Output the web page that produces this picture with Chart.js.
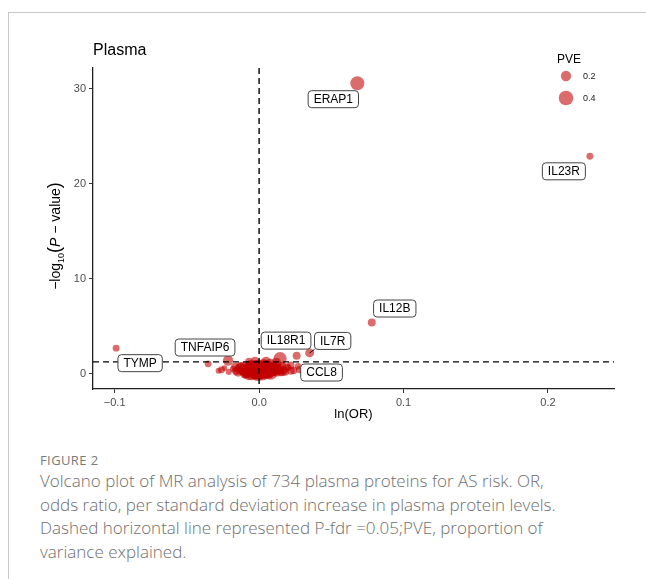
<!DOCTYPE html>
<html>
<head>
<meta charset="utf-8">
<script src="https://cdn.jsdelivr.net/npm/chart.js@4/dist/chart.umd.min.js"></script>
<style>
  body { margin: 0; background: #fff; width: 646px; height: 579px; overflow: hidden; position: relative; }
  #card { position: absolute; left: 8px; top: 12px; width: 640px; height: 580px;
          border-top: 1px solid #cacaca; border-left: 1px solid #cacaca; }
  #plot { position: absolute; left: 0; top: 0; }
  #fig { position: absolute; left: 40px; top: 451px; font: 13px "Open Sans", sans-serif;
         color: #7a7a7a; letter-spacing: 0.4px; }
  #caption { position: absolute; left: 40px; top: 469px; width: 600px; font: 300 17px "Open Sans", sans-serif;
             color: #6e6e6e; line-height: 23.7px; }
</style>
</head>
<body>
<div id="card"></div>
<canvas id="plot" width="646" height="430"></canvas>
<div id="fig">FIGURE 2</div>
<div id="caption">Volcano plot of MR analysis of 734 plasma proteins for AS risk. OR,<br>odds ratio, per standard deviation increase in plasma protein levels.<br>Dashed horizontal line represented P-fdr =0.05;PVE, proportion of<br>variance explained.</div>
<script>
// proteins ('' = unlabeled point in the null cluster)
const protein = [
    'ERAP1', 'IL23R', 'IL12B', 'IL7R', 'IL18R1', 'CCL8', 'TNFAIP6', 'TYMP',
    '', '', '', '', '', '', '', '', '', '', '', '', '', '', '',
    '', '', '', '', '', '', '', '', '', '', '', '', '', '', '',
    '', '', '', '', '', '', '', '', '', '', '', '', '', '', '',
    '', '', '', '', '', '', '', '', '', '', '', '', '', '', '',
    '', '', '', '', '', '', '', '', '', '', '', '', '', '', '',
    '', '', '', '', '', '', '', '', '', '',
];
const lnOR = [
    0.068, 0.229, 0.078, 0.035, 0.0145, 0.028, -0.0215, -0.099,
    -0.0353, -0.028, -0.026, -0.021, -0.018, -0.013, -0.016, -0.024, 0.019, 0.024, 0.027, 0.026, 0.022, 0.030, 0.017,
    -0.011, -0.0083, -0.0062, -0.0048, -0.0035, -0.0021, -0.0007, 0.0007, 0.0021, 0.0035, 0.0048, 0.0062, 0.0076, 0.009, 0.0104,
    0.0118, 0.0131, 0.0159, 0.018, 0.020, 0.022, -0.0145, -0.0166, -0.0097, -0.0069, 0.0021, -0.0028, 0.0005, -0.004, 0.003,
    0.006, 0.008, -0.006, -0.009, 0.011, 0.013, -0.001, 0.001, 0.004, -0.003, 0.007, 0.010, -0.012, 0.015, 0.0,
    -0.008, -0.005, -0.002, 0.001, 0.004, 0.007, 0.010, 0.012, -0.010, -0.007, -0.004, 0.002, 0.005, 0.008, 0.011,
    -0.003, 0.000, 0.003, 0.006, 0.009, -0.006, 0.014, -0.013, 0.016, -0.001,
];
const logP = [
    30.6, 22.9, 5.4, 2.2, 1.6, 0.45, 1.4, 2.7,
    1.05, 0.32, 0.42, 0.2, 0.5, 0.5, 0.3, 0.6, 0.7, 0.35, 0.8, 1.9, 0.9, 0.2, 0.4,
    0.63, 0.21, 0.84, 0.05, 0.42, 0.02, 0.95, 0.32, 0.63, 0.05, 1.26, 0.53, 0.95, 0.21, 0.74,
    1.16, 0.42, 0.84, 0.21, 0.63, 0.32, 0.21, 0.74, 0.02, 1.26, 0.02, 1.37, 0.15, 0.3, 0.25,
    0.1, 0.45, 0.5, 0.1, 0.3, 0.55, 0.7, 0.5, 0.2, 0.12, 0.05, 0.6, 0.4, 0.15, 0.08,
    0.3, 0.55, 0.2, 0.45, 0.7, 0.35, 0.55, 0.3, 0.45, 0.1, 0.6, 0.1, 0.25, 0.1, 0.4,
    0.8, 0.65, 0.9, 0.75, 0.6, 0.85, 0.5, 0.7, 0.3, 0.05,
];
const pve = [
    0.37, 0.09, 0.12, 0.15, 0.33, 0.1, 0.2, 0.09,
    0.09, 0.07, 0.09, 0.07, 0.08, 0.25, 0.12, 0.06, 0.12, 0.1, 0.08, 0.12, 0.1, 0.06, 0.14,
    0.27, 0.27, 0.19, 0.37, 0.27, 0.27, 0.19, 0.37, 0.27, 0.27, 0.19, 0.27, 0.27, 0.19, 0.19,
    0.19, 0.12, 0.12, 0.12, 0.09, 0.12, 0.19, 0.12, 0.19, 0.12, 0.19, 0.12, 0.3, 0.3, 0.3,
    0.25, 0.2, 0.25, 0.2, 0.15, 0.15, 0.3, 0.3, 0.3, 0.25, 0.2, 0.15, 0.15, 0.12, 0.3,
    0.4, 0.4, 0.45, 0.4, 0.4, 0.35, 0.3, 0.25, 0.3, 0.4, 0.4, 0.45, 0.4, 0.35, 0.25,
    0.3, 0.35, 0.3, 0.3, 0.25, 0.25, 0.2, 0.2, 0.2, 0.45,
];
const xTicks = [-0.1, 0.0, 0.1, 0.2];
const yTicks = [0, 10, 20, 30];
const legendPve = [0.2, 0.4];
const fdrLine = 1.26;

const POINT = 'rgba(195,0,0,0.58)';
const radiusOf = v => Math.max(2, 11.5 * Math.sqrt(v));
const FONT = '"Liberation Sans", Arial, sans-serif';

// where each label box sits, relative to its point (px)
const labelPos = {
    ERAP1: [-24, 16], IL23R: [-26, 15], IL12B: [23, -14], IL7R: [23, -12, true],
    IL18R1: [6, -18], CCL8: [22, 3], TNFAIP6: [-23, -13], TYMP: [24, 15],
};

const extras = {
    id: 'extras',
    afterDatasetsDraw(chart) {
        const { ctx, chartArea: a, scales: { x, y } } = chart;
        ctx.save();
        // reference lines
        ctx.strokeStyle = '#000';
        ctx.lineWidth = 1.4;
        ctx.setLineDash([6, 4]);
        ctx.beginPath();
        ctx.moveTo(a.left, y.getPixelForValue(fdrLine));
        ctx.lineTo(a.right, y.getPixelForValue(fdrLine));
        ctx.moveTo(x.getPixelForValue(0), a.top);
        ctx.lineTo(x.getPixelForValue(0), a.bottom);
        ctx.stroke();
        ctx.setLineDash([]);

        // labels
        ctx.font = '12px ' + FONT;
        ctx.textAlign = 'center';
        ctx.textBaseline = 'middle';
        protein.forEach((name, i) => {
            if (!name || !labelPos[name]) return;
            const px = x.getPixelForValue(lnOR[i]);
            const py = y.getPixelForValue(logP[i]);
            const [dx, dy, seg] = labelPos[name];
            const w = ctx.measureText(name).width + 11;
            const h = 17;
            const cx = px + dx, cy = py + dy;
            if (seg) {
                ctx.strokeStyle = '#000';
                ctx.lineWidth = 1;
                ctx.beginPath();
                ctx.moveTo(px, py);
                ctx.lineTo(cx - w / 2, cy + h / 2);
                ctx.stroke();
            }
            ctx.fillStyle = '#fff';
            ctx.strokeStyle = '#444';
            ctx.lineWidth = 1;
            ctx.beginPath();
            ctx.roundRect(cx - w / 2, cy - h / 2, w, h, 3.5);
            ctx.fill();
            ctx.stroke();
            ctx.fillStyle = '#000';
            ctx.fillText(name, cx, cy + 0.5);
        });

        // title
        ctx.textAlign = 'left';
        ctx.font = '16px ' + FONT;
        ctx.fillText('Plasma', 93, 51);

        // x title
        ctx.textAlign = 'center';
        ctx.font = '13px ' + FONT;
        ctx.fillText('ln(OR)', (a.left + a.right) / 2, 414);

        // y title: -log10(P - value)
        ctx.translate(60, 236);
        ctx.rotate(-Math.PI / 2);
        const parts = [
            ['\u2212log', '14px', 0], ['10', '9px', 4], ['(', '18px', 0],
            ['P', 'italic 14px', 0], [' \u2212 value', '14px', 0], [')', '18px', 0],
        ];
        let total = 0;
        parts.forEach(p => { ctx.font = p[1] + ' ' + FONT; total += ctx.measureText(p[0]).width; });
        let cur = -total / 2;
        ctx.textAlign = 'left';
        ctx.textBaseline = 'alphabetic';
        parts.forEach(p => {
            ctx.font = p[1] + ' ' + FONT;
            ctx.fillText(p[0], cur, p[2]);
            cur += ctx.measureText(p[0]).width;
        });
        ctx.restore();

        // size legend
        ctx.save();
        ctx.fillStyle = '#000';
        ctx.font = '12px ' + FONT;
        ctx.textBaseline = 'middle';
        ctx.fillText('PVE', 557, 60);
        ctx.font = '9px ' + FONT;
        legendPve.forEach((v, i) => {
            const cy = 76 + i * 22;
            ctx.fillStyle = POINT;
            ctx.beginPath();
            ctx.arc(566, cy, radiusOf(v), 0, Math.PI * 2);
            ctx.fill();
            ctx.fillStyle = '#222';
            ctx.fillText(v.toFixed(1), 583, cy + 0.5);
        });
        ctx.restore();
    }
};

const axisCommon = {
    grid: { display: true, drawOnChartArea: false, drawTicks: true, tickLength: 4, color: '#333', lineWidth: 1 },
    border: { display: true, color: '#222', width: 1.3 },
    ticks: { color: '#4d4d4d', font: { size: 11, family: FONT }, padding: 3 },
};

new Chart(document.getElementById('plot'), {
    type: 'scatter',
    data: {
        datasets: [{
            data: lnOR.map((v, i) => ({ x: v, y: logP[i] })),
            backgroundColor: POINT,
            borderWidth: 0,
            pointRadius: c => radiusOf(pve[c.dataIndex]),
            pointHoverRadius: c => radiusOf(pve[c.dataIndex]),
        }],
    },
    options: {
        responsive: false,
        animation: false,
        devicePixelRatio: 1,
        layout: { padding: { top: 68, right: 32, left: 0, bottom: 0 } },
        plugins: { legend: { display: false }, tooltip: { enabled: false } },
        scales: {
            x: {
                ...axisCommon,
                type: 'linear', min: -0.115, max: 0.2457,
                afterBuildTicks: s => { s.ticks = xTicks.map(v => ({ value: v })); },
                afterFit: s => { s.height = 41; },
                ticks: { ...axisCommon.ticks, callback: v => v.toFixed(1).replace('-', '\u2212') },
            },
            y: {
                ...axisCommon,
                type: 'linear', min: -1.6, max: 32.2,
                afterBuildTicks: s => { s.ticks = yTicks.map(v => ({ value: v })); },
                afterFit: s => { s.width = 93; },
                ticks: { ...axisCommon.ticks, callback: v => String(v) },
            },
        },
    },
    plugins: [extras],
});
</script>
</body>
</html>
